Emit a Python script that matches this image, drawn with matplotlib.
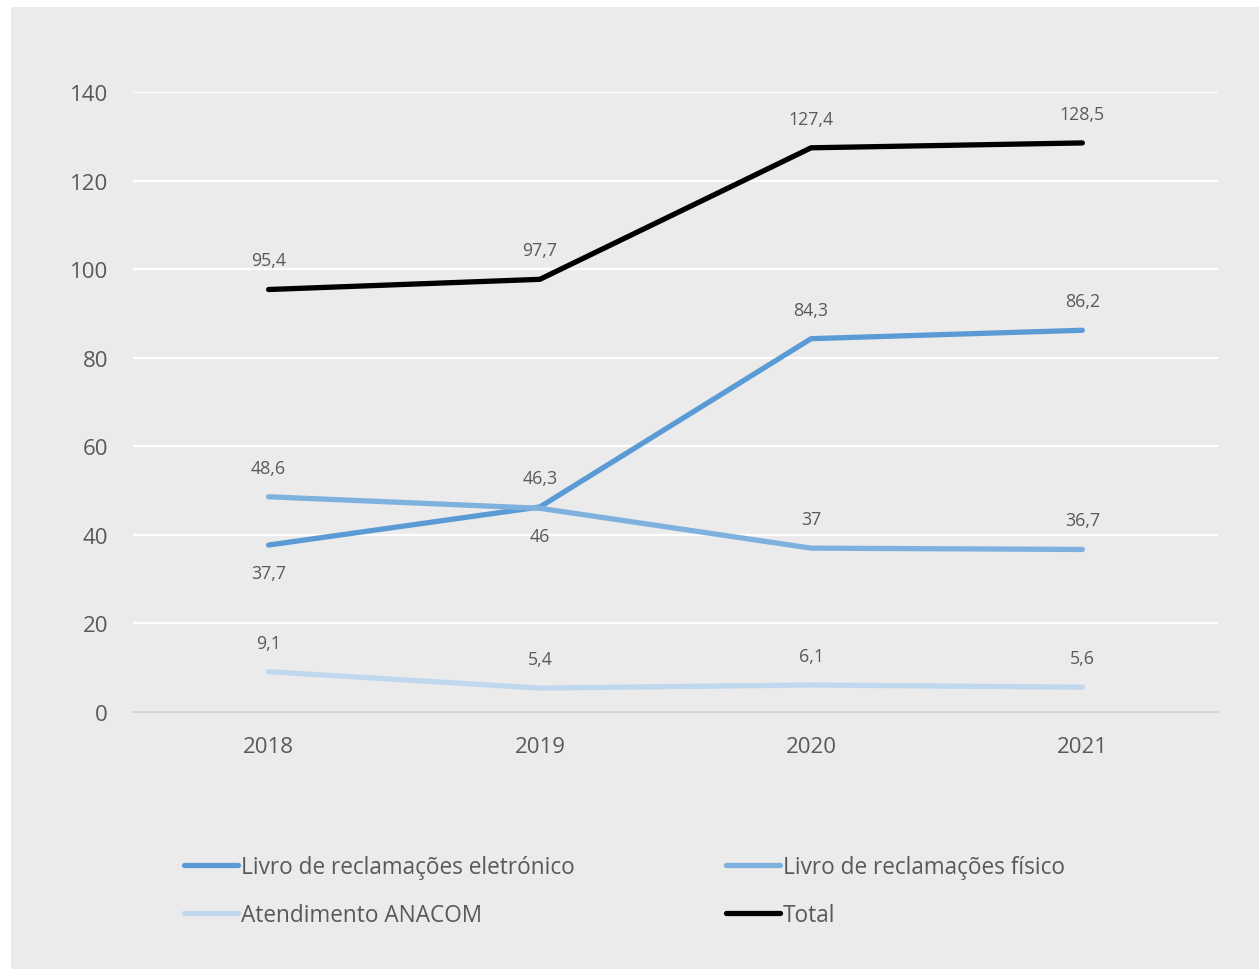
import matplotlib

matplotlib.use("Agg")

import matplotlib.pyplot as plt
from matplotlib.patches import Rectangle

plt.rcParams["font.family"] = ["Open Sans", "DejaVu Sans"]

years = ["2018", "2019", "2020", "2021"]
eletronico = [37.7, 46.3, 84.3, 86.2]
fisico = [48.6, 46.0, 37.0, 36.7]
anacom = [9.1, 5.4, 6.1, 5.6]
total = [95.4, 97.7, 127.4, 128.5]

# label above (+1) or below (-1) each point
eletronico_pos = [-1, 1, 1, 1]
fisico_pos = [1, -1, 1, 1]
anacom_pos = [1, 1, 1, 1]
total_pos = [1, 1, 1, 1]

txt = "#595959"
bg = "#ebebeb"


def fmt(v):
    s = "{:.1f}".format(v)
    if s.endswith(".0"):
        s = s[:-2]
    return s.replace(".", ",")


fig = plt.figure(figsize=(12.59, 9.70), dpi=100)
fig.patch.set_facecolor("white")
fig.patches.append(Rectangle((11 / 1259, -0.01), 1, 1.01 - 8 / 970, transform=fig.transFigure,
                             facecolor=bg, edgecolor="none", zorder=-1))

ax = fig.add_axes([133 / 1259, 257 / 970, 1085 / 1259, 620 / 970])
ax.set_facecolor(bg)
ax.patch.set_alpha(0)

x = list(range(len(years)))
series = [
    ("Livro de reclamações eletrónico", eletronico, eletronico_pos, "#5b9bd5"),
    ("Livro de reclamações físico", fisico, fisico_pos, "#7fb1df"),
    ("Atendimento ANACOM", anacom, anacom_pos, "#c0d8ee"),
    ("Total", total, total_pos, "black"),
]
lines = {}
for name, vals, pos, col in series:
    ln, = ax.plot(x, vals, color=col, lw=3.8, solid_capstyle="round",
                  solid_joinstyle="round", label=name, zorder=3)
    lines[name] = ln
    for xi, v, p in zip(x, vals, pos):
        off = 21 if p > 0 else -20
        ax.annotate(fmt(v), (xi, v), xytext=(0, off), textcoords="offset points",
                    ha="center", va="center", fontsize=12.8, color=txt)

ax.set_xlim(-0.5, 3.5)
ax.set_ylim(0, 140)
ax.set_yticks(range(0, 141, 20))
ax.set_xticks(x)
ax.set_xticklabels(years)
ax.grid(axis="y", color="white", lw=1.6)
ax.set_axisbelow(True)
for s in ["top", "right", "left"]:
    ax.spines[s].set_visible(False)
ax.spines["bottom"].set_color("#d0d0d0")
ax.spines["bottom"].set_linewidth(1.2)
ax.tick_params(length=0, labelsize=16, labelcolor=txt)
ax.tick_params(axis="x", pad=17)
ax.tick_params(axis="y", pad=18)

order = ["Livro de reclamações eletrónico", "Atendimento ANACOM",
         "Livro de reclamações físico", "Total"]
leg = fig.legend([lines[n] for n in order], order, ncols=2, frameon=False,
                 loc="upper left", bbox_to_anchor=(164 / 1259, 1 - 836 / 970),
                 fontsize=16.25, handlelength=2.4, handletextpad=0.12,
                 columnspacing=6.7, labelspacing=1.05, labelcolor=txt)

fig.savefig("out.png", dpi=100, facecolor=fig.get_facecolor())
